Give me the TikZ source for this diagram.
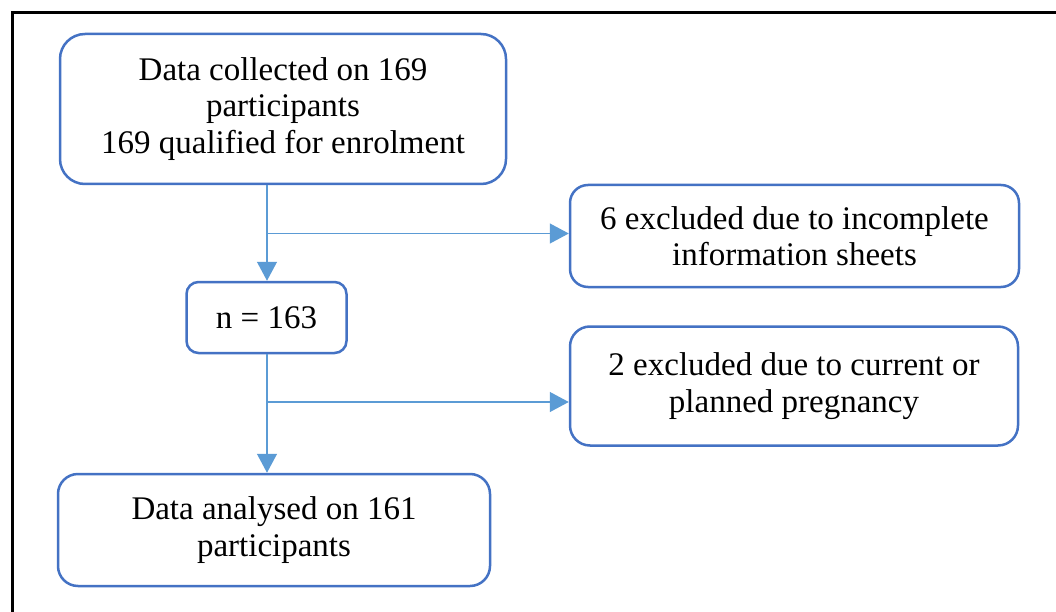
\documentclass[tikz,border=0pt]{standalone}
\usepackage{fontspec}
\setmainfont{Liberation Serif}
\usetikzlibrary{arrows.meta}
\definecolor{boxblue}{HTML}{4472C4}
\definecolor{linkblue}{HTML}{5B9BD5}
\tikzset{
  flowbox/.style={draw=boxblue, line width=2.5pt, align=center, inner sep=0pt,
    font=\fontsize{33}{36.5}\selectfont, text=black},
  conn/.style={draw=linkblue, line width=1.3pt},
  connarrow/.style={conn, -{Triangle[length=19pt,width=20pt,fill=linkblue]}}
}
\begin{document}
\begin{tikzpicture}[x=1pt,y=-1pt]
\useasboundingbox (0,0) rectangle (1056,612);
\fill[white] (0,0) rectangle (1056,612);
\draw[line width=3pt, line cap=rect] (12,612) -- (12,13) -- (1056,13);

\node[flowbox, rounded corners=25pt, minimum width=446pt, minimum height=150pt] (A) at (283,109)
  {Data collected on 169\\participants\\169 qualified for enrolment};
\node[flowbox, rounded corners=12pt, minimum width=160pt, minimum height=71pt] (n) at (266.5,317.5)
  {n = 163};
\node[flowbox, rounded corners=18pt, minimum width=449pt, minimum height=102pt] (B) at (794.5,236)
  {6 excluded due to incomplete\\information sheets};
\node[flowbox, rounded corners=20pt, minimum width=448pt, minimum height=119pt] (C) at (794,386)
  {2 excluded due to current or\\planned pregnancy};
\node[flowbox, rounded corners=20pt, minimum width=432pt, minimum height=112pt] (D) at (274,530)
  {Data analysed on 161\\participants};

\coordinate (j1) at (267,233.5);
\coordinate (j2) at (267,402);

\draw[connarrow] (A.south -| j1) -- (n.north -| j1);
\draw[connarrow] (j1) -- (j1 -| B.west);
\draw[connarrow] (n.south -| j2) -- (D.north -| j2);
\draw[connarrow] (j2) -- (j2 -| C.west);
\end{tikzpicture}
\end{document}
